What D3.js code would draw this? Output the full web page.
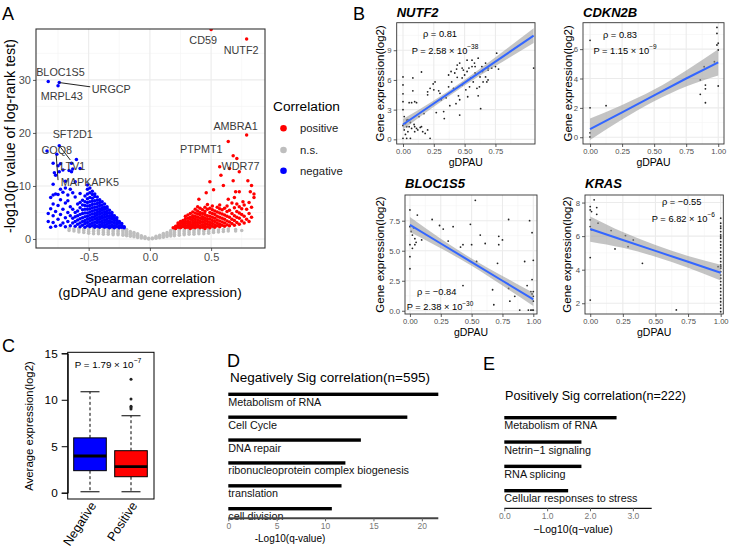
<!DOCTYPE html>
<html><head><meta charset="utf-8">
<script src="https://cdn.jsdelivr.net/npm/d3@7"></script>
<style>body{margin:0;background:#fff} text{font-family:"Liberation Sans",Arial,sans-serif}</style>
</head><body>
<script>
// ================= DATA =================
// Panel A: volcano plot, columns of points [spearman, [-log10 p ...]]
const nsCols = [
 [-0.66,[1.6,2.0]],[-0.62,[1.5,1.9]],[-0.58,[1.3,1.7,2.0]],[-0.54,[1.2,1.6,1.9]],[-0.50,[1.1,1.4,1.8]],
 [-0.46,[1.0,1.4,1.7,2.0]],[-0.42,[1.0,1.3,1.6,1.9]],[-0.38,[0.9,1.2,1.5,1.8]],[-0.34,[0.9,1.2,1.5,1.8]],
 [-0.30,[0.8,1.1,1.4,1.7,2.0]],[-0.26,[0.8,1.1,1.4,1.7]],[-0.22,[0.7,1.0,1.3,1.6,1.9]],[-0.19,[0.6,0.9,1.2,1.5,1.8]],
 [-0.16,[0.5,0.8,1.1,1.4]],[-0.13,[0.4,0.7,1.0,1.2]],[-0.10,[0.3,0.55,0.8,1.0]],[-0.07,[0.2,0.4,0.6]],
 [-0.04,[0.1,0.25,0.4]],[-0.01,[0.0,0.15]],[0.02,[0.05,0.2]],[0.05,[0.15,0.3,0.5]],[0.08,[0.25,0.45,0.7]],
 [0.11,[0.35,0.6,0.85,1.05]],[0.14,[0.45,0.7,0.95,1.2]],[0.17,[0.55,0.8,1.05,1.3,1.6]],[0.20,[0.6,0.9,1.2,1.5,1.8]],
 [0.24,[0.7,1.0,1.3,1.6,1.9]],[0.28,[0.8,1.1,1.4,1.7]],[0.32,[0.9,1.2,1.5,1.8]],[0.36,[0.9,1.2,1.5,1.8]],
 [0.40,[1.0,1.3,1.6,1.9]],[0.44,[1.0,1.4,1.7]],[0.48,[1.1,1.4,1.8]],[0.52,[1.2,1.5,1.9]],[0.56,[1.3,1.7]],
 [0.60,[1.4,1.8]],[0.64,[1.5,1.9]],[0.70,[1.5,1.8]],[0.75,[1.6]]
];
const posCols = [
 [0.19,[2.1]],[0.21,[2.0,2.4]],[0.23,[2.2,2.7,3.0]],[0.25,[2.1,2.5,2.9,3.3]],[0.27,[2.3,2.7,3.1,3.5]],
 [0.29,[2.1,2.5,2.9,3.3,3.8,4.3]],[0.31,[2.2,2.6,3.0,3.4,3.9,4.5]],[0.33,[2.0,2.4,2.8,3.2,3.7,4.1,4.8]],
 [0.35,[2.2,2.6,3.0,3.5,4.0,4.4,5.1]],[0.37,[2.1,2.5,2.9,3.3,3.8,4.3,4.9,5.6]],[0.39,[2.3,2.7,3.1,3.6,4.1,4.7,5.3,6.1]],
 [0.41,[2.1,2.5,3.0,3.4,3.9,4.5,5.0,5.8]],[0.43,[2.2,2.7,3.2,3.7,4.2,4.8,5.5]],[0.45,[2.0,2.4,2.9,3.5,4.0,4.6,5.2,6.0]],
 [0.47,[2.3,2.8,3.3,3.8,4.4,5.6,6.5]],[0.49,[2.1,2.6,3.1,3.7,4.3,5.0,5.8]],[0.51,[2.4,2.9,3.5,4.1,4.8,5.5,6.2]],
 [0.53,[2.2,2.7,3.3,3.9,4.6,5.3]],[0.55,[2.5,3.0,3.6,4.3,5.1,6.0]],[0.57,[2.3,2.8,3.4,4.1,4.9,5.7]],
 [0.59,[2.6,3.2,3.9,4.7,5.5]],[0.61,[2.4,3.0,3.7,4.5,5.8]],[0.63,[2.7,3.4,4.3,5.2,6.2]],[0.65,[2.5,3.2,4.1,5.4]],
 [0.67,[2.9,3.7,4.8,6.8]],[0.69,[2.6,3.5,4.4,5.9,7.8]],[0.71,[3.1,4.1,5.2,6.6]],[0.73,[2.8,3.9,4.9,6.1]],
 [0.75,[3.4,4.6,5.7]],[0.77,[3.0,4.3,6.4]],[0.79,[3.7,5.6]],[0.81,[3.3,4.8,6.9]],[0.83,[4.1,6.0]],[0.85,[7.8]]
];
const posExtra = [[0.50,39.5],[0.79,37.7],[0.79,19.6],[0.64,18.4],[0.68,15.7],[0.71,15.2],[0.57,13.6],[0.65,13.3],
 [0.73,12.7],[0.58,12.0],[0.49,10.8],[0.68,11.0],[0.80,11.0],[0.60,10.1],[0.83,10.1],[0.73,8.9],[0.70,8.9],
 [0.52,9.3],[0.85,8.5],[0.82,8.9],[0.46,8.7],[0.40,7.5],[0.64,7.5],[0.76,7.0],[0.57,6.4]];
const negCols = [
 [-0.21,[2.1,2.3]],[-0.23,[2.2,2.6,2.9]],[-0.25,[2.1,2.5,3.0,3.3]],[-0.27,[2.3,2.8,3.2,3.6,4.0]],
 [-0.29,[2.1,2.5,3.0,3.5,3.9,4.4]],[-0.31,[2.3,2.7,3.2,3.7,4.2,4.6,5.0]],[-0.33,[2.1,2.5,3.0,3.4,3.9,4.4,4.9,5.4]],
 [-0.35,[2.3,2.8,3.3,3.8,4.3,4.8,5.3,5.8,6.1]],[-0.37,[2.2,2.6,3.1,3.6,4.1,4.6,5.1,5.6,6.0,6.6]],
 [-0.39,[2.4,2.9,3.4,3.9,4.4,4.9,5.4,5.9,6.4,7.0]],[-0.41,[2.2,2.7,3.2,3.7,4.2,4.7,5.2,5.7,6.3,6.9,7.4]],
 [-0.43,[2.4,3.0,3.5,4.0,4.5,5.0,5.5,6.1,6.7,7.3,7.9]],[-0.45,[2.2,2.7,3.2,3.8,4.3,4.8,5.4,6.0,6.6,7.2,8.0,8.5]],
 [-0.47,[2.5,3.0,3.6,4.1,4.7,5.3,5.9,6.5,7.1,7.7,8.4,9.0]],[-0.49,[2.3,2.8,3.4,3.9,4.5,5.1,5.7,6.3,7.0,7.8,8.7,9.6]],
 [-0.51,[2.5,3.1,3.7,4.3,4.9,5.6,6.2,6.9,7.6,8.5,9.4,10.2]],[-0.53,[2.2,2.9,3.5,4.2,4.9,5.6,6.3,7.0,8.1]],
 [-0.55,[2.6,3.3,4.0,4.8,5.5,6.4,7.3]],[-0.57,[2.3,3.0,3.8,4.6,5.9,6.9,8.6]],[-0.59,[2.8,3.6,4.4,5.3,6.6]],
 [-0.61,[2.4,3.3,4.2,5.0,7.9]],[-0.63,[3.0,3.9,5.6,8.7]],[-0.65,[2.5,4.4,6.1,9.4]],[-0.67,[3.3,5.0,7.2,8.3]],
 [-0.69,[2.3,4.0,6.8,9.6]],[-0.71,[3.0,5.6,8.8]],[-0.73,[2.6,4.6,7.4,9.4]],[-0.75,[3.7,6.3,8.4]],
 [-0.77,[2.4,5.2,8.5]],[-0.79,[3.1,4.4,6.6,8.3]],[-0.81,[2.2,5.7,7.8]],[-0.83,[3.3,4.8]]
];
const negExtra = [[-0.83,29.7],[-0.74,29.5],[-0.75,28.9],[-0.74,17.6],[-0.84,16.6],[-0.76,16.0],[-0.60,15.0],
 [-0.64,14.3],[-0.73,14.2],[-0.79,14.3],[-0.74,12.7],[-0.78,12.5],[-0.64,12.7],[-0.63,13.2],[-0.57,13.3],
 [-0.61,10.8],[-0.79,10.3],[-0.71,13.0],[-0.75,13.8],[-0.66,12.9],[-0.77,12.0],[-0.69,10.9]];
const geneNames = ["CD59","NUTF2","BLOC1S5","MRPL43","URGCP","AMBRA1","PTPMT1","WDR77","SFT2D1","COQ8","LTV1","MAPKAPK5"];
const legendLabels = ["positive","n.s.","negative"];

// Panel B: scatter data [gDPAU, expression]
const nutf2Pts = [[0,6.3],[0,5.5],[0,4.6],[0,3.8],[0,3.0],[0.01,2.3],[0.03,1.95],[0.02,1.6],[0.03,1.28],[0.01,0.95],
 [0.04,0.77],[0.05,1.28],[0.07,1.1],[0.095,1.28],[0.11,1.1],[0.12,0.95],[0.14,1.2],[0.16,0.77],[0.18,0.6],[0.22,0.1],
 [0.06,0.1],[0.03,0.1],[0,0.1],[0.05,3.7],[0.07,3.7],[0.095,3.8],[0.11,3.7],[0.08,4.9],[0.08,6.2],[0.15,6.8],
 [0.2,4.8],[0.2,4.5],[0.22,5.15],[0.245,5.6],[0.25,5.0],[0.29,4.9],[0.3,4.65],[0.33,2.8],[0.335,2.1],[0.35,4.2],
 [0.37,5.3],[0.37,6.5],[0.395,5.8],[0.41,5.15],[0.42,6.7],[0.435,7.1],[0.44,6.26],[0.45,4.4],[0.46,4.0],[0.46,2.45],
 [0.48,6.2],[0.48,5.5],[0.49,7.0],[0.5,6.5],[0.51,5.0],[0.52,8.0],[0.525,4.3],[0.53,6.0],[0.535,7.2],[0.55,6.2],
 [0.56,7.35],[0.57,5.8],[0.58,7.7],[0.585,6.7],[0.59,6.5],[0.6,5.15],[0.61,4.4],[0.61,8.2],[0.62,5.3],[0.625,6.3],
 [0.63,3.1],[0.64,7.35],[0.645,6.85],[0.65,7.0],[0.67,6.3],[0.68,5.8],[0.69,7.2],[0.69,7.0],[0.72,7.2],[0.76,8.7],
 [0.775,7.1],[0.67,7.7],[0.56,8.0],[0.48,7.2],[0.44,7.5],[0.39,6.85],[0.26,5.8],[0.31,4.0],[0.49,5.65],[0.54,5.3],
 [0.65,5.8],[0.69,6.0],[1.06,7.2],[0.15,1.28],[0.2,0.95],[0.095,0.77],[0.75,7.35],[0.585,7.35],[0.52,6.85],[0.46,7.7],
 [0.02,0.5],[0.0,1.4],[0.04,2.0],[0.09,1.5],[0.13,2.3],[0.17,2.6],[0.06,1.7],[0.27,2.7],[0.38,3.4],[0.43,3.6]];
const nutf2Fit = [[0,1.5,1.0,2.05],[0.25,3.62,3.3,3.92],[0.5,5.73,5.45,6.02],[0.75,7.85,7.4,8.3],[1.06,10.47,9.72,11.22]];
const cdkn2bPts = [[0,6.6],[0,2.0],[0,0.3],[0,0.02],[0.125,2.15],[0.86,2.92],[0.86,3.9],[0.9,3.55],[0.9,3.3],
 [0.9,2.35],[0.89,4.8],[0.97,5.14],[0.99,7.48],[0.99,7.07],[1.0,6.4],[0.99,6.28],[1.0,5.94],[1.0,3.49]];
const cdkn2bFit = [[0,0.55,-0.18,1.28],[0.25,1.7,1.2,2.2],[0.5,2.85,2.45,3.25],[0.75,4.0,3.45,4.55],[1.0,5.1,4.2,6.0]];
const bloc1s5Pts = [[0,8.4],[0,7.0],[0.01,6.6],[0.02,6.3],[0.04,6.0],[0.05,5.7],[0.04,5.5],[0,5.5],[0,4.5],[0,3.5],
 [0.06,7.97],[0.095,5.9],[0.18,7.6],[0.24,7.1],[0.27,6.8],[0.35,7.0],[0.31,5.8],[0.41,5.3],[0.43,5.5],[0.49,7.2],
 [0.5,5.5],[0.53,9.2],[0.57,6.3],[0.61,5.6],[0.54,4.1],[0.43,2.1],[0.72,5.5],[0.72,6.2],[0.75,5.9],[0.71,3.95],
 [0.67,1.75],[0.68,0.5],[0.8,7.6],[0.8,1.86],[0.81,0.8],[0.85,1.2],[0.93,4.1],[0.89,0.06],[0.95,2.1],[0.97,7.5],
 [0.99,6.5],[0.99,2.6],[0.98,1.6],[1.0,4.2],[1.0,1.6],[1.0,1.2],[0.96,0.06],[0.98,0.06],[0.99,0.06],[1.0,0.06],
 [1.0,0.8],[0.99,1.4],[0.02,5.2],[0.03,6.9]];
const bloc1s5Fit = [[0,7.15,6.55,7.8],[0.25,5.6,5.2,6.0],[0.5,4.05,3.75,4.35],[0.75,2.5,2.1,2.9],[1.0,0.95,0.4,1.5]];
const krasPts = [[0.03,8.16],[0,7.76],[0,7.56],[0.01,7.46],[0.05,7.7],[0.05,7.3],[0,6.97],[0,6.57],[0.01,6.37],
 [0.06,6.77],[0,4.72],[0,2.19],[0.16,6.33],[0.19,5.24],[0.27,6.03],[0.29,5.37],[0.33,5.77],[0.4,4.38],[0.66,1.6],
 [0.98,4.18],[1,7.07],[1,6.77],[1,6.6],[1,6.47],[1,6.27],[1,6.07],[1,5.95],[1,5.87],[1,5.67],[1,5.47],[1,5.3],
 [1,5.07],[1,4.88],[1,4.68],[1,4.48],[1,4.28],[1,4.18],[1,4.08],[1,3.88],[1,3.68],[1,3.49],[1,3.29],[1,3.09],
 [1,2.89],[1,2.69],[1,2.49],[1,2.29],[1,2.09],[1,1.89],[1,1.7],[1,1.5]];
const krasFit = [[0,6.42,5.67,7.17],[0.25,5.77,5.3,6.24],[0.5,5.12,4.77,5.47],[0.75,4.47,4.12,4.82],[1.0,3.82,3.35,4.3]];

// Panel C: boxplot stats
const boxGroups = ["Negative","Positive"];
const boxMin = [0.1,0.1], boxQ1 = [2.37,1.72], boxMed = [3.95,2.8], boxQ3 = [5.9,4.52], boxMax = [10.86,8.28];
const boxOutliers = [[],[9.0,9.18,9.3,10.07,12.2]];

// Panel D / E: enrichment bars
const negTerms = ["Metabolism of RNA","Cell Cycle","DNA repair","ribonucleoprotein complex biogenesis","translation","cell division"];
const negValues = [21.7,18.5,13.7,12.1,11.7,10.7];
const posTerms = ["Metabolism of RNA","Netrin\u22121 signaling","RNA splicing","Cellular responses to stress"];
const posValues = [2.62,1.8,1.8,1.49];

// ================= DRAW =================
const svg = d3.select("body").append("svg").attr("width",730).attr("height",553);
svg.append("rect").attr("width",730).attr("height",553).attr("fill","#fff");
const flat = cols => cols.flatMap(([x,ys]) => ys.map(y => [x,y]));

function letter(t,x,y){ svg.append("text").attr("x",x).attr("y",y).attr("font-size",18).attr("fill","#000").text(t); }
function styleAxis(sel, fs){
  sel.select(".domain").remove();
  sel.selectAll(".tick line").attr("stroke","#333").attr("stroke-width",0.8);
  sel.selectAll("text").attr("fill","#4d4d4d").attr("font-size",fs);
}
function minorOf(ticks, dom){
  const step = ticks[1]-ticks[0], m=[];
  for (let v = ticks[0]-step/2; v <= dom[1]; v += step) if (v >= dom[0]) m.push(v);
  return m;
}
function grid(g, x, y, xt, yt){
  const xd = x.domain(), yd = y.domain(), xr = x.range(), yr = y.range();
  minorOf(xt, xd).forEach(v => g.append("line").attr("x1",x(v)).attr("x2",x(v)).attr("y1",yr[0]).attr("y2",yr[1]).attr("stroke","#f3f3f3").attr("stroke-width",0.6));
  minorOf(yt, yd).forEach(v => g.append("line").attr("y1",y(v)).attr("y2",y(v)).attr("x1",xr[0]).attr("x2",xr[1]).attr("stroke","#f3f3f3").attr("stroke-width",0.6));
  xt.forEach(v => g.append("line").attr("x1",x(v)).attr("x2",x(v)).attr("y1",yr[0]).attr("y2",yr[1]).attr("stroke","#ebebeb").attr("stroke-width",1.1));
  yt.forEach(v => g.append("line").attr("y1",y(v)).attr("y2",y(v)).attr("x1",xr[0]).attr("x2",xr[1]).attr("stroke","#ebebeb").attr("stroke-width",1.1));
}
function supText(g, x, y, base, exp, fs, anchor){
  const t = g.append("text").attr("x",x).attr("y",y).attr("text-anchor",anchor||"middle").attr("font-size",fs).attr("fill","#000");
  t.append("tspan").text(base);
  t.append("tspan").attr("dy",-fs*0.45).attr("font-size",fs*0.7).text(exp);
}

// ---------- Panel A ----------
(function(){
  const x = d3.scaleLinear().domain([-0.93,0.94]).range([36,265]);
  const y = d3.scaleLinear().domain([-1.7,39.6]).range([248,29]);
  const g = svg.append("g");
  grid(g, x, y, [-0.5,0,0.5], [0,10,20,30]);
  svg.append("clipPath").attr("id","clipA").append("rect").attr("x",36).attr("y",29).attr("width",229).attr("height",219);
  const pg = g.append("g").attr("clip-path","url(#clipA)");
  const draw = (pts, col) => pg.selectAll(null).data(pts).enter().append("circle")
      .attr("cx",d=>x(d[0])).attr("cy",d=>y(d[1])).attr("r",1.75).attr("fill",col);
  draw(flat(nsCols), "#bebebe");
  draw(flat(posCols).concat(posExtra), "#ff0000");
  draw(flat(negCols).concat(negExtra), "#0000ff");
  // label segments
  const segs = [[[-0.74,29.5],[-0.487,28.7]],[[-0.73,17.3],[-0.65,14.9]],[[-0.765,15.8],[-0.75,11.1]]];
  segs.forEach(s => g.append("line").attr("x1",x(s[0][0])).attr("y1",y(s[0][1])).attr("x2",x(s[1][0])).attr("y2",y(s[1][1])).attr("stroke","#222").attr("stroke-width",1));
  const labPos = [[0.435,37.5],[0.745,35.7],[-0.73,31.5],[-0.72,27.0],[-0.315,28.3],[0.70,21.3],[0.42,17.0],[0.74,13.8],[-0.63,19.8],[-0.76,16.8],[-0.63,13.8],[-0.49,10.75]];
  geneNames.forEach((n,i) => g.append("text").attr("x",x(labPos[i][0])).attr("y",y(labPos[i][1])).attr("dy","0.36em")
      .attr("text-anchor","middle").attr("font-size",10.8).attr("fill","#3a3a3a").text(n));
  g.append("rect").attr("x",36).attr("y",29).attr("width",229).attr("height",219).attr("fill","none").attr("stroke","#333").attr("stroke-width",1.1);
  const ay = g.append("g").attr("transform","translate(36,0)").call(d3.axisLeft(y).tickValues([0,10,20,30]).tickSize(3).tickPadding(2));
  styleAxis(ay, 11);
  const axx = g.append("g").attr("transform","translate(0,248)").call(d3.axisBottom(x).tickValues([-0.5,0,0.5]).tickFormat(d=>d.toFixed(1)).tickSize(3).tickPadding(2));
  styleAxis(axx, 11);
  g.append("text").attr("transform","translate(15,136) rotate(-90)").attr("text-anchor","middle").attr("font-size",14.3).text("-log10(p value of log-rank test)");
  g.append("text").attr("x",150).attr("y",283).attr("text-anchor","middle").attr("font-size",13.6).text("Spearman correlation");
  g.append("text").attr("x",150).attr("y",297).attr("text-anchor","middle").attr("font-size",13.6).text("(gDPAU and gene expression)");
  // legend
  g.append("text").attr("x",273).attr("y",111).attr("font-size",13.7).text("Correlation");
  const lc = ["#ff0000","#bebebe","#0000ff"], ly = [128.3,150,170.7];
  legendLabels.forEach((l,i) => {
    g.append("circle").attr("cx",283.5).attr("cy",ly[i]).attr("r",3.3).attr("fill",lc[i]);
    g.append("text").attr("x",300).attr("y",ly[i]).attr("dy","0.36em").attr("font-size",11.3).attr("fill","#222").text(l);
  });
  letter("A",2,20);
})();

// ---------- Panel B ----------
function scatter(o){
  const x = d3.scaleLinear().domain(o.xd).range(o.xr);
  const y = d3.scaleLinear().domain(o.yd).range(o.yr);
  const g = svg.append("g");
  grid(g, x, y, o.xt, o.yt);
  g.selectAll(null).data(o.pts).enter().append("circle").attr("cx",d=>x(d[0])).attr("cy",d=>y(d[1])).attr("r",0.9).attr("fill","#222");
  g.append("path").datum(o.fit).attr("d", d3.area().x(d=>x(d[0])).y0(d=>y(d[2])).y1(d=>y(d[3])).curve(d3.curveMonotoneX))
    .attr("fill","#999").attr("opacity",0.58);
  g.append("path").datum(o.fit).attr("d", d3.line().x(d=>x(d[0])).y(d=>y(d[1]))).attr("fill","none").attr("stroke","#3366ff").attr("stroke-width",2);
  g.append("rect").attr("x",o.xr[0]).attr("y",o.yr[1]).attr("width",o.xr[1]-o.xr[0]).attr("height",o.yr[0]-o.yr[1])
    .attr("fill","none").attr("stroke","#333").attr("stroke-width",0.9);
  const ya = g.append("g").attr("transform",`translate(${o.xr[0]},0)`).call(d3.axisLeft(y).tickValues(o.yt).tickFormat(o.yf).tickSize(3).tickPadding(2));
  styleAxis(ya, 7.8);
  const xa = g.append("g").attr("transform",`translate(0,${o.yr[0]})`).call(d3.axisBottom(x).tickValues(o.xt).tickFormat(d=>d.toFixed(2)).tickSize(3).tickPadding(2));
  styleAxis(xa, 7.6);
  g.append("text").attr("transform",`translate(${o.ylx},${(o.yr[0]+o.yr[1])/2}) rotate(-90)`).attr("text-anchor","middle").attr("font-size",11.5).text("Gene expression(log2)");
  g.append("text").attr("x",(o.xr[0]+o.xr[1])/2).attr("y",o.yr[0]+22).attr("text-anchor","middle").attr("font-size",10.5).text("gDPAU");
  g.append("text").attr("x",o.xr[0]).attr("y",o.ty).attr("font-size",13).attr("font-weight","bold").attr("font-style","italic").text(o.title);
  g.append("text").attr("x",o.rho[0]).attr("y",o.rho[1]).attr("text-anchor","middle").attr("font-size",9.3).text(o.rhoText);
  supText(g, o.p[0], o.p[1], o.pText, o.pExp, 9.3);
}
scatter({title:"NUTF2", pts:nutf2Pts, fit:nutf2Fit, xd:[-0.051,1.071], xr:[396.7,535], yd:[-0.47,11.78], yr:[144,22.7],
  xt:[0,0.25,0.5,0.75], yt:[0,3,6,9], yf:d=>d, ylx:384, ty:16.5, rho:[440,36.5], rhoText:"\u03c1 = 0.81", p:[445,53.5], pText:"P = 2.58 \u00d7 10", pExp:"\u221238"});
scatter({title:"CDKN2B", pts:cdkn2bPts, fit:cdkn2bFit, xd:[-0.055,1.045], xr:[583,724], yd:[-0.46,7.8], yr:[144,22.7],
  xt:[0,0.25,0.5,0.75,1], yt:[0,2,4,6], yf:d=>d, ylx:572, ty:16.5, rho:[620,37.5], rhoText:"\u03c1 = 0.83", p:[625,53.5], pText:"P = 1.15 \u00d7 10", pExp:"\u22129"});
scatter({title:"BLOC1S5", pts:bloc1s5Pts, fit:bloc1s5Fit, xd:[-0.04,1.03], xr:[405,537], yd:[-0.27,9.64], yr:[314,195],
  xt:[0,0.25,0.5,0.75,1], yt:[0,2.5,5,7.5], yf:d=>d.toFixed(1), ylx:384, ty:188, rho:[436.7,295], rhoText:"\u03c1 = \u22120.84", p:[440,310], pText:"P = 2.38 \u00d7 10", pExp:"\u221230"});
scatter({title:"KRAS", pts:krasPts, fit:krasFit, xd:[-0.04,1.02], xr:[585,723.3], yd:[1.36,8.45], yr:[314,195],
  xt:[0,0.25,0.5,0.75,1], yt:[2,4,6,8], yf:d=>d, ylx:571, ty:188, rho:[681.7,205], rhoText:"\u03c1 = \u22120.55", p:[683.3,221.5], pText:"P = 6.82 \u00d7 10", pExp:"\u22126"});
letter("B",353,20);

// ---------- Panel C ----------
(function(){
  const y = d3.scaleLinear().domain([0,15]).range([492.7,353.3]);
  const x = d3.scalePoint().domain(boxGroups).range([90,131]);
  const g = svg.append("g");
  const hw = 16.3, cw = 9.5;
  boxGroups.forEach((grp,i) => {
    const cx = x(grp), col = i===0 ? "#0000ff" : "#ff0000";
    g.append("line").attr("x1",cx).attr("x2",cx).attr("y1",y(boxQ3[i])).attr("y2",y(boxMax[i])).attr("stroke","#000").attr("stroke-dasharray","3,2.5");
    g.append("line").attr("x1",cx).attr("x2",cx).attr("y1",y(boxQ1[i])).attr("y2",y(boxMin[i])).attr("stroke","#000").attr("stroke-dasharray","3,2.5");
    [boxMax[i], boxMin[i]].forEach(v => g.append("line").attr("x1",cx-cw).attr("x2",cx+cw).attr("y1",y(v)).attr("y2",y(v)).attr("stroke","#000"));
    g.append("rect").attr("x",cx-hw).attr("width",2*hw).attr("y",y(boxQ3[i])).attr("height",y(boxQ1[i])-y(boxQ3[i])).attr("fill",col).attr("stroke","#000");
    g.append("line").attr("x1",cx-hw).attr("x2",cx+hw).attr("y1",y(boxMed[i])).attr("y2",y(boxMed[i])).attr("stroke","#000").attr("stroke-width",2.8);
    boxOutliers[i].forEach(v => g.append("circle").attr("cx",cx).attr("cy",y(v)).attr("r",1.5).attr("fill","#222"));
    g.append("text").attr("transform",`translate(${cx+3},${503}) rotate(-57)`).attr("text-anchor","end").attr("dy","0.35em").attr("font-size",12.5).text(grp);
  });
  g.append("rect").attr("x",67.7).attr("y",352.3).attr("width",86.3).attr("height",146.7).attr("fill","none").attr("stroke","#000");
  const ya = g.append("g").attr("transform","translate(67.7,0)").call(d3.axisLeft(y).tickValues([0,5,10,15]).tickSize(6).tickPadding(4));
  ya.select(".domain").attr("stroke","#000");
  ya.selectAll(".tick line").attr("stroke","#000");
  ya.selectAll("text").attr("font-size",11.8).attr("fill","#000");
  g.append("text").attr("transform","translate(33,426) rotate(-90)").attr("text-anchor","middle").attr("font-size",11.4).text("Average expression(log2)");
  supText(g, 108, 367.5, "P = 1.79 \u00d7 10", "\u22127", 9.8);
  letter("C",2,352);
})();

// ---------- Panels D and E ----------
function barPanel(o){
  const x = d3.scaleLinear().domain(o.xd).range(o.xr);
  const y = d3.scalePoint().domain(o.terms).range(o.yr);
  const g = svg.append("g");
  g.append("text").attr("x",o.titleX).attr("y",o.titleY).attr("text-anchor",o.titleAnchor).attr("font-size",o.titleFs).text(o.title);
  g.selectAll(null).data(o.terms).enter().append("rect")
    .attr("x",x(0)).attr("y",d=>y(d)-1.7).attr("width",(d,i)=>x(o.values[i])-x(0)).attr("height",3.4).attr("fill","#000");
  g.selectAll(null).data(o.terms).enter().append("text")
    .attr("x",x(0)).attr("y",d=>y(d)+11.5).attr("font-size",10.8).attr("fill","#111").text(d=>d);
  g.append("line").attr("x1",o.xr[0]).attr("x2",o.xr[1]).attr("y1",o.axisY).attr("y2",o.axisY).attr("stroke",o.axisCol).attr("stroke-width",o.axisW);
  const xa = g.append("g").attr("transform",`translate(0,${o.axisY})`).call(d3.axisBottom(x).tickValues(o.ticks).tickSize(3).tickPadding(1.5));
  xa.select(".domain").remove();
  xa.selectAll(".tick line").attr("stroke","#666");
  xa.selectAll("text").attr("fill","#777").attr("font-size",8.5);
  g.append("text").attr("x",o.atX).attr("y",o.atY).attr("text-anchor","middle").attr("font-size",o.atFs).text(o.axisTitle);
}
barPanel({terms:negTerms, values:negValues, xd:[0,21.7], xr:[228.3,438.3], yr:[394.3,508.7], axisY:518.3, axisCol:"#444", axisW:2,
  ticks:[0,5,10,15,20], title:"Negatively Sig correlation(n=595)", titleX:330, titleY:381.5, titleAnchor:"middle", titleFs:13.5,
  axisTitle:"-Log10(q-value)", atX:290, atY:541.5, atFs:10});
barPanel({terms:posTerms, values:posValues, xd:[0,3.44], xr:[504.3,651.7], yr:[417.7,490.7], axisY:508.3, axisCol:"#111", axisW:1.3,
  ticks:[0,1,2,3], title:"Positively Sig correlation(n=222)", titleX:505, titleY:399.5, titleAnchor:"start", titleFs:12.6,
  axisTitle:"\u2212Log10(q\u2212value)", atX:573, atY:533, atFs:10.5});
letter("D",227,367);
letter("E",483,370);
</script>
</body></html>
